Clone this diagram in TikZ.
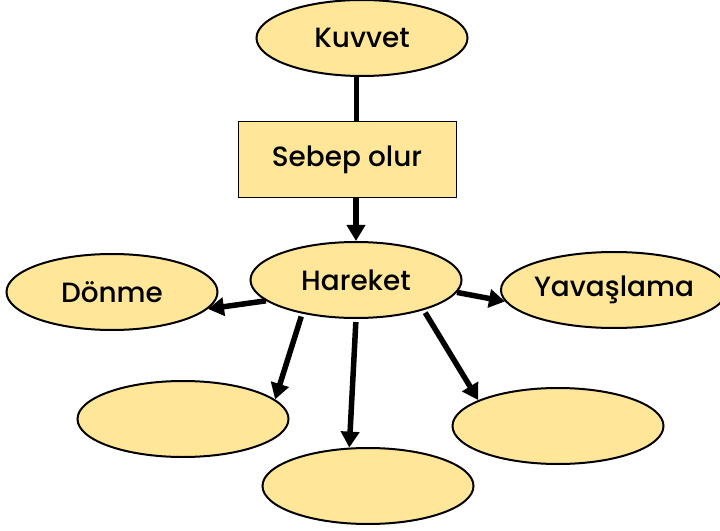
\documentclass[tikz,border=0pt]{standalone}
\usepackage{fontspec}
\setmainfont{Poppins}[BoldFont={* Medium}]
\usetikzlibrary{shapes,arrows.meta,positioning}
\definecolor{sari}{RGB}{255,230,153}

\tikzset{
  kavram/.style={ellipse,draw,line width=2bp,fill=sari,minimum width=211bp,
    minimum height=76bp,inner sep=0pt,font=\bfseries\fontsize{28}{32}\selectfont},
  kutu/.style={rectangle,draw,line width=1bp,fill=sari,minimum width=218bp,
    minimum height=76bp,font=\bfseries\fontsize{28}{32}\selectfont},
  bag/.style={line width=5.5bp},
  ok/.style={line width=5.5bp,-{Triangle[length=16bp,width=18bp]}}
}

\begin{document}
\begin{tikzpicture}[x=1bp,y=-1bp]
\useasboundingbox (0,0) rectangle (720,531);

\node [kavram] (kuvvet) at (362,38) {Kuvvet};
\node [kutu] (sebep) at (347,160) {Sebep olur};
\node [kavram] (hareket) at (356,280) {Hareket};
\node [kavram] (donme) at (112,292) {Dönme};
\node [kavram,minimum width=208bp] (yavas) at (614,290) {Yavaşlama};

% bos kavramlar
\foreach \i / \px / \py in {1/183/419,2/368/486,3/558/426}
  \node [kavram] (bos\i) at (\px,\py) {};

\draw [bag] (kuvvet.262) -- (kuvvet.262 |- sebep.north);
\draw [ok] (hareket.north |- sebep.south) -- (hareket.north);

\draw [ok] (hareket.193) -- (donme.350);
\draw [ok] (hareket.353) -- (yavas.186);

\foreach \i / \ac / \bc in {1/212/12,2/270/116,3/336/162}
  \draw [ok,shorten <=3bp] (hareket.\ac) -- (bos\i.\bc);

\end{tikzpicture}
\end{document}
